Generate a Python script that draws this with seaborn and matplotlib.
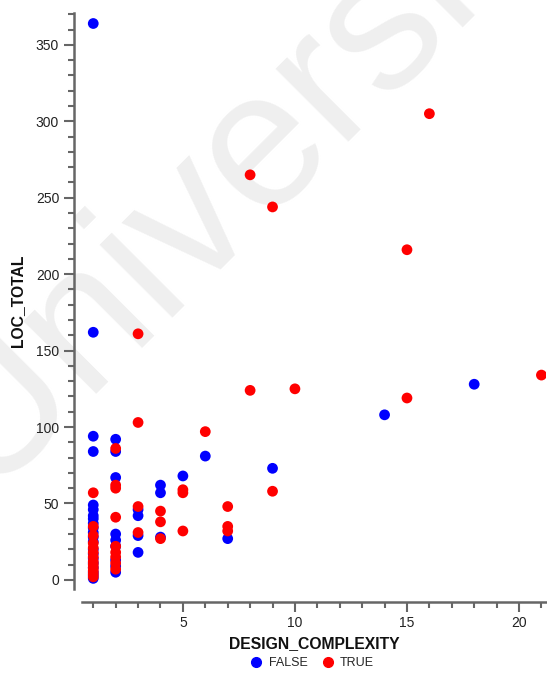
import numpy as np
import pandas as pd
import matplotlib
matplotlib.use('Agg')
import matplotlib.pyplot as plt
from matplotlib.ticker import MultipleLocator
from matplotlib.lines import Line2D
import seaborn as sns

sns.set_theme(style='white')
plt.rcParams['font.family'] = ['Liberation Sans', 'DejaVu Sans']

# DESIGN_COMPLEXITY / LOC_TOTAL for modules without defects (FALSE)
complexity_false = [1] * 21 + [2] * 9 + [3] * 4 + [4] * 3 + [5, 6, 7, 9, 14, 18]
loc_false = [364, 162, 94, 84, 49, 46, 42, 40, 37, 34, 31, 28, 25, 20, 17, 14, 11, 8, 5, 3, 1,
             92, 84, 67, 30, 26, 22, 13, 9, 5,
             46, 42, 29, 18,
             62, 57, 28,
             68, 81, 27, 73, 108, 128]

# modules with defects (TRUE)
complexity_true = ([1] * 13 + [2] * 9 + [3] * 4 + [4] * 3 + [5] * 3 + [6] + [7] * 3
                   + [8, 8, 9, 9, 10, 15, 15, 16, 21])
loc_true = [57, 35, 29, 24, 21, 18, 15, 12, 10, 8, 6, 4, 2,
            86, 62, 60, 41, 22, 18, 15, 11, 7,
            161, 103, 48, 31,
            45, 38, 27,
            59, 57, 32,
            97,
            48, 35, 32,
            265, 124, 244, 58, 125, 216, 119, 305, 134]

df = pd.DataFrame({
    'DESIGN_COMPLEXITY': complexity_false + complexity_true,
    'LOC_TOTAL': loc_false + loc_true,
    'defects': ['FALSE'] * len(loc_false) + ['TRUE'] * len(loc_true),
})

palette = {'FALSE': '#0000ff', 'TRUE': '#ff0000'}

fig = plt.figure(figsize=(5.47, 6.74), dpi=100)
ax = fig.add_axes([0.150, 0.126, 0.848, 0.855])

# watermark behind everything
fig.text(-0.03, 0.27, 'University', fontsize=140, color='#efefef', rotation=45,
         rotation_mode='anchor', ha='left', va='baseline', zorder=-5)
ax.patch.set_alpha(0)

sns.scatterplot(data=df, x='DESIGN_COMPLEXITY', y='LOC_TOTAL', hue='defects',
                hue_order=['FALSE', 'TRUE'], palette=palette, s=60, linewidth=0,
                alpha=1, legend=False, ax=ax)

ax.set_xlim(0.5, 21.2)
ax.set_ylim(-6, 371)
ax.xaxis.set_major_locator(MultipleLocator(5))
ax.xaxis.set_minor_locator(MultipleLocator(1))
ax.yaxis.set_major_locator(MultipleLocator(50))
ax.yaxis.set_minor_locator(MultipleLocator(10))

sns.despine(ax=ax)
ax.spines['left'].set_position(('outward', 6))
ax.spines['bottom'].set_position(('outward', 9))
for s in ['left', 'bottom']:
    ax.spines[s].set_color('#666666')
    ax.spines[s].set_linewidth(1.8)

ax.tick_params(which='major', length=7, width=1.5, color='#666666',
               labelsize=10, labelcolor='#222222', direction='out', left=True, bottom=True)
ax.tick_params(which='minor', length=4, width=1.5, color='#666666',
               direction='out', left=True, bottom=True)

ax.set_xlabel('DESIGN_COMPLEXITY', fontsize=11.3, fontweight='bold', color='#111111', labelpad=4)
ax.set_ylabel('LOC_TOTAL', fontsize=11.3, fontweight='bold', color='#111111', labelpad=8)

handles = [Line2D([], [], marker='o', linestyle='', color=palette[k], markersize=7, label=k)
           for k in ['FALSE', 'TRUE']]
fig.legend(handles=handles, loc='center', bbox_to_anchor=(0.565, 0.016), ncol=2,
           frameon=False, fontsize=9, handletextpad=0.0, columnspacing=0.6)

fig.savefig('out.png', dpi=100)
